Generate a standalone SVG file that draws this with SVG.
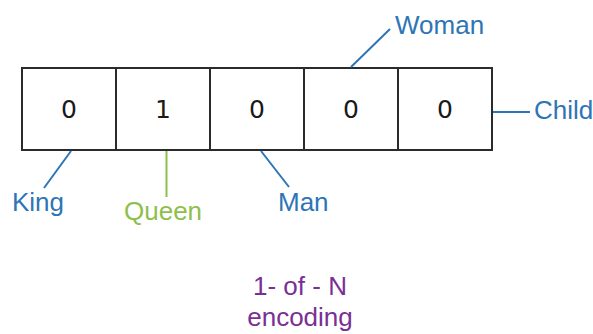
<svg xmlns="http://www.w3.org/2000/svg" width="593" height="334" viewBox="0 0 593 334">
  <style>
    .cell { fill: #ffffff; stroke: #2b2b2b; stroke-width: 2; }
    .digit { font-family: "DejaVu Sans", "Liberation Sans", sans-serif; font-size: 25px; fill: #1a1a1a; text-anchor: middle; }
    .lbl { font-family: "Liberation Sans", Arial, sans-serif; font-size: 26px; }
    .blue { fill: #2e75b6; }
    .green { fill: #8dc04b; }
    .purple { fill: #7a2f95; }
    .lead-blue { stroke: #2e75b6; stroke-width: 2; fill: none; }
    .lead-green { stroke: #8dc04b; stroke-width: 2; fill: none; }
  </style>
  <rect width="593" height="334" fill="#ffffff"/>

  <!-- vector cells -->
  <g id="cell-king">
    <rect class="cell" x="22" y="68" width="94" height="82"/>
    <text class="digit" x="69" y="118">0</text>
  </g>
  <g id="cell-queen">
    <rect class="cell" x="116" y="68" width="94" height="82"/>
    <text class="digit" x="163" y="118">1</text>
  </g>
  <g id="cell-man">
    <rect class="cell" x="210" y="68" width="94" height="82"/>
    <text class="digit" x="257" y="118">0</text>
  </g>
  <g id="cell-woman">
    <rect class="cell" x="304" y="68" width="94" height="82"/>
    <text class="digit" x="351" y="118">0</text>
  </g>
  <g id="cell-child">
    <rect class="cell" x="398" y="68" width="94" height="82"/>
    <text class="digit" x="445" y="118">0</text>
  </g>

  <!-- leader lines -->
  <g id="connectors">
    <line class="lead-blue" x1="71" y1="151" x2="44" y2="188"/>
    <line class="lead-green" x1="166.5" y1="151" x2="166.5" y2="197"/>
    <line class="lead-blue" x1="261" y1="151" x2="289" y2="187"/>
    <line class="lead-blue" x1="351" y1="67" x2="390" y2="29"/>
    <line class="lead-blue" x1="493" y1="112" x2="530" y2="112"/>
  </g>

  <!-- labels -->
  <g id="label-king"><text class="lbl blue" x="12" y="211">King</text></g>
  <g id="label-queen"><text class="lbl green" x="124" y="220">Queen</text></g>
  <g id="label-man"><text class="lbl blue" x="278" y="211">Man</text></g>
  <g id="label-woman"><text class="lbl blue" x="395" y="34">Woman</text></g>
  <g id="label-child"><text class="lbl blue" x="534" y="119">Child</text></g>

  <g id="caption">
    <text class="lbl purple" x="300" y="295" text-anchor="middle">1- of - N</text>
    <text class="lbl purple" x="300" y="326" text-anchor="middle">encoding</text>
  </g>
</svg>
